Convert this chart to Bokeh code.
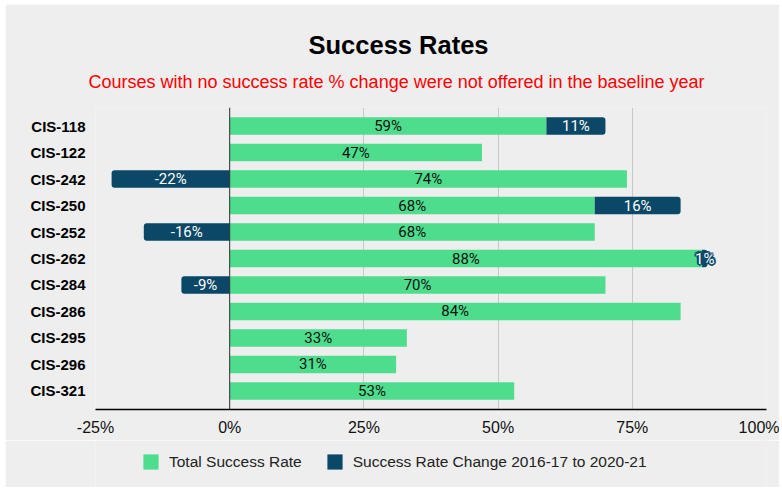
from bokeh.plotting import figure
from bokeh.layouts import column
from bokeh.models import (ColumnDataSource, FactorRange, Range1d, Span, Title,
                          Legend, LegendItem, FixedTicker)
from bokeh.core.properties import value
from bokeh.embed import file_html
from bokeh.resources import INLINE

courses = ["CIS-118", "CIS-122", "CIS-242", "CIS-250", "CIS-252", "CIS-262",
           "CIS-284", "CIS-286", "CIS-295", "CIS-296", "CIS-321"]
total_rate = [59, 47, 74, 68, 68, 88, 70, 84, 33, 31, 53]
rate_change = [11, None, -22, 16, -16, 1, -9, None, None, None, None]
x_ticks = [-25, 0, 25, 50, 75, 100]
x_tick_labels = ["-25%", "0%", "25%", "50%", "75%", "100%"]
series_names = ["Total Success Rate", "Success Rate Change 2016-17 to 2020-21"]

GREEN = "#4ddd8c"
BLUE = "#0b4766"
BG = "#eeeeee"

green_src = ColumnDataSource(dict(
    course=courses,
    right=total_rate,
    mid=[t / 2 for t in total_rate],
    label=[f"{t}%" for t in total_rate],
))

pos_c, pos_l, pos_r, pos_lab = [], [], [], []
neg_c, neg_l, neg_r, neg_lab = [], [], [], []
for c, t, ch in zip(courses, total_rate, rate_change):
    if ch is None:
        continue
    if ch >= 0:
        pos_c.append(c); pos_l.append(t); pos_r.append(t + ch); pos_lab.append(f"{ch}%")
    else:
        neg_c.append(c); neg_l.append(ch); neg_r.append(0); neg_lab.append(f"{ch}%")

pos_src = ColumnDataSource(dict(course=pos_c, left=pos_l, right=pos_r,
                                mid=[(a + b) / 2 for a, b in zip(pos_l, pos_r)], label=pos_lab))
neg_src = ColumnDataSource(dict(course=neg_c, left=neg_l, right=neg_r,
                                mid=[(a + b) / 2 for a, b in zip(neg_l, neg_r)], label=neg_lab))

p = figure(width=774, height=436, output_backend="svg", toolbar_location=None,
           y_range=FactorRange(*reversed(courses), range_padding=0.2,
                               range_padding_units="absolute"),
           x_range=Range1d(-25, 100),
           min_border_left=90, min_border_right=13, min_border_top=103,
           min_border_bottom=31, margin=(4, 3, 0, 5))
p.background_fill_color = BG
p.border_fill_color = BG
p.outline_line_color = None

bh = 0.66
p.hbar(y="course", left=0, right="right", height=bh, source=green_src,
       fill_color=GREEN, line_color=None)
p.hbar(y="course", left="left", right="right", height=bh, source=pos_src,
       fill_color=BLUE, line_color=None, border_radius=(0, 3, 3, 0))
p.hbar(y="course", left="left", right="right", height=bh, source=neg_src,
       fill_color=BLUE, line_color=None, border_radius=(3, 0, 0, 3))

p.add_layout(Span(location=0, dimension="height", line_color="#333333", line_width=1))

p.text(x="mid", y="course", text="label", source=green_src, text_align="center",
       text_baseline="middle", text_font=value("Roboto"), text_font_size="15px",
       text_color="#111111")
for src in (pos_src, neg_src):
    for dx, dy in [(-2, 0), (2, 0), (0, -2), (0, 2), (-1.5, -1.5), (1.5, 1.5), (-1.5, 1.5), (1.5, -1.5)]:
        p.text(x="mid", y="course", text="label", source=src, text_align="center",
               text_baseline="middle", text_font=value("Roboto"), text_font_size="15px",
               text_color=BLUE, x_offset=dx, y_offset=dy)
    p.text(x="mid", y="course", text="label", source=src, text_align="center",
           text_baseline="middle", text_font=value("Roboto"), text_font_size="15px",
           text_color="white")

p.xaxis.ticker = FixedTicker(ticks=x_ticks)
p.xaxis.major_label_overrides = {t: l for t, l in zip(x_ticks, x_tick_labels)}
p.xaxis.major_tick_line_color = None
p.xaxis.minor_tick_line_color = None
p.xaxis.major_tick_out = 0
p.xaxis.major_tick_in = 0
p.xaxis.axis_line_color = "#000000"
p.xaxis.axis_line_width = 1.5
p.xaxis.major_label_standoff = 9
p.xaxis.major_label_text_font = "Liberation Sans"
p.xaxis.major_label_text_font_size = "16px"
p.xaxis.major_label_text_color = "#111111"

p.yaxis.axis_line_color = None
p.yaxis.major_tick_line_color = None
p.yaxis.minor_tick_line_color = None
p.yaxis.major_tick_out = 0
p.yaxis.major_tick_in = 0
p.yaxis.major_label_standoff = 10
p.yaxis.major_label_text_font = "Liberation Sans"
p.yaxis.major_label_text_font_style = "bold"
p.yaxis.major_label_text_font_size = "15px"
p.yaxis.major_label_text_color = "#000000"

p.ygrid.grid_line_color = None
p.xgrid.grid_line_color = "#c8c8c8"
p.xgrid.grid_line_width = 1

p.add_layout(Title(text="Courses with no success rate % change were not offered in the baseline year",
                   align="left", offset=-7, standoff=32, text_font="Liberation Sans",
                   text_font_style="normal", text_font_size="18px", text_color="#ff0000"), "above")
main_title = Title(text="Success Rates", align="left", offset=213, standoff=0,
                   text_font="Liberation Sans", text_font_style="bold",
                   text_font_size="25.5px", text_color="#000000")
try:
    main_title.standoff = -10
except Exception:
    main_title.standoff = 0
p.add_layout(main_title, "above")

# legend strip
q = figure(width=774, height=47, output_backend="svg", toolbar_location=None,
           x_range=Range1d(0, 1), y_range=Range1d(0, 1),
           x_axis_type=None, y_axis_type=None, min_border=0, margin=(0, 3, 4, 5))
q.background_fill_color = BG
q.border_fill_color = BG
q.outline_line_color = None
q.grid.visible = False
lg = q.hbar(y=[5], left=[5], right=[6], height=0.5, fill_color=GREEN, line_color=None)
lb = q.hbar(y=[5], left=[5], right=[6], height=0.5, fill_color=BLUE, line_color=None)
legend = Legend(items=[LegendItem(label=series_names[0], renderers=[lg]),
                       LegendItem(label=series_names[1], renderers=[lb])],
                orientation="horizontal", location=(46, 16),
                glyph_width=19, glyph_height=19, label_standoff=9, spacing=23,
                padding=0, margin=0, border_line_color=None, background_fill_alpha=0,
                label_text_font="Liberation Sans", label_text_font_size="15.5px",
                label_text_color="#222222", label_height=19)
q.add_layout(legend, "center")

layout = column(p, q, spacing=0)
open("out.html", "w").write(file_html(layout, INLINE))
